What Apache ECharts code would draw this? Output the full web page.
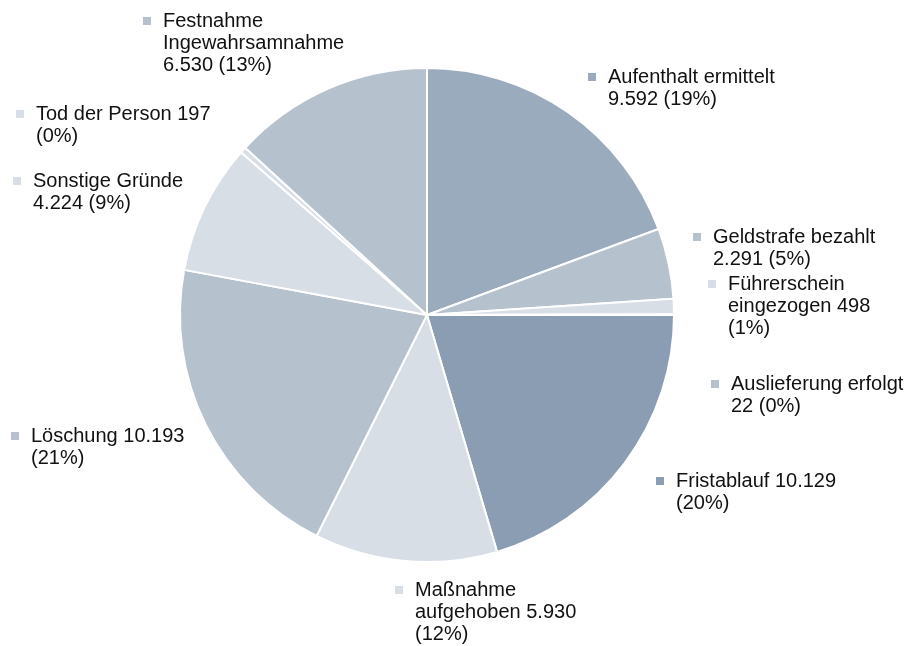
<!DOCTYPE html>
<html>
<head>
<meta charset="utf-8">
<script src="https://cdn.jsdelivr.net/npm/echarts@6/dist/echarts.min.js"></script>
<style>
html,body{margin:0;padding:0;background:#fff;}
#chart{width:906px;height:646px;}
</style>
</head>
<body>
<div id="chart"></div>
<script>
// ---- data ----
const categories = [
  'Aufenthalt ermittelt',
  'Geldstrafe bezahlt',
  'Führerschein eingezogen',
  'Auslieferung erfolgt',
  'Fristablauf',
  'Maßnahme aufgehoben',
  'Löschung',
  'Sonstige Gründe',
  'Tod der Person',
  'Festnahme Ingewahrsamnahme'
];
const values = [9592, 2291, 498, 22, 10129, 5930, 10193, 4224, 197, 6530];
// words per label line (text wrapping)
const lineWords = [[2,2],[2,2],[1,2,1],[2,2],[2,1],[1,2,1],[2,1],[2,2],[4,1],[1,1,2]];

// ---- styles ----
const colors = ['#9aabbe','#b5c1cd','#d7dee6','#b5c1cd','#8a9db2','#d7dee6','#b5c1cd','#d7dee6','#d7dee6','#b5c1cd'];
// label block anchors (marker left, first line top)
const labelPos = [[588,66],[693,226],[708,273],[711,373],[656,470],[395,579],[11,425],[13,170],[16,103],[143,10]];

const total = values.reduce((a,b)=>a+b,0);
function fmt(n){ return String(n).replace(/\B(?=(\d{3})+(?!\d))/g,'.'); }

const data = categories.map((c,i)=>({
  name:c, value:values[i],
  itemStyle:{color:colors[i]},
  label:{rich:{m:{width:8,height:8,backgroundColor:colors[i]},g:{width:12},s:{width:20},t:{fontSize:20,color:'#111',fontFamily:'Liberation Sans, Arial, sans-serif',lineHeight:22}}}
}));

const chart = echarts.init(document.getElementById('chart'));
chart.setOption({
  animation:false,
  series:[{
    type:'pie',
    center:[427,315],
    radius:[0,247],
    startAngle:90,
    clockwise:true,
    avoidLabelOverlap:false,
    itemStyle:{borderColor:'#fff',borderWidth:2},
    labelLine:{show:false},
    label:{
      show:true,
      position:'outside',
      align:'left',
      formatter:function(p){
        const i=p.dataIndex;
        const pct=Math.round(values[i]/total*100);
        const words=(categories[i]+' '+fmt(values[i])+' ('+pct+'%)').split(' ');
        let k=0; const lines=[];
        lineWords[i].forEach((n,j)=>{
          const l=words.slice(k,k+n).join(' '); k+=n;
          lines.push((j===0?'{m|}{g|}':'{s|}')+'{t|'+l+'}');
        });
        return lines.join('\n');
      }
    },
    labelLayout:function(p){
      const q=labelPos[p.dataIndex];
      return {x:q[0],y:q[1],align:'left',verticalAlign:'top'};
    },
    data:data
  }]
});
</script>
</body>
</html>
